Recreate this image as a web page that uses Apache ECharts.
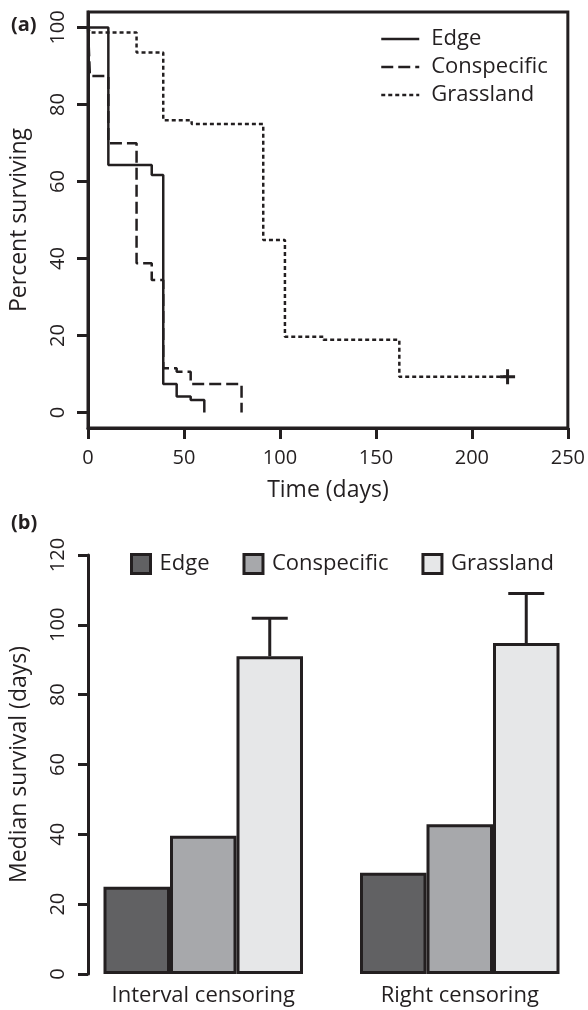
<!DOCTYPE html>
<html lang="en">
<head>
    <meta charset="UTF-8">
    <title>Survival by habitat</title>
    <script src="https://cdn.jsdelivr.net/npm/echarts@6/dist/echarts.min.js"></script>
    <style>
        html, body { margin: 0; padding: 0; background: #fff; }
        #chart { width: 588px; height: 1010px; }
    </style>
</head>
<body>
<div id="chart"></div>
<script>
    // ---- data ----
    var groups = ['Edge', 'Conspecific', 'Grassland'];

    // (a) Kaplan-Meier curves, [day, percent surviving]
    var edgeSurv = [[0, 100], [10.6, 64.3], [33.2, 61.7], [39.2, 7.4], [46.2, 4.2], [53.5, 3.3], [60.6, 0]];
    var conspSurv = [[0, 100], [1, 87.4], [10.6, 69.9], [25.3, 38.8], [33.2, 34.4], [39.2, 11.5],
                     [46.2, 10.6], [53.5, 7.4], [80, 0]];
    var grassSurv = [[0, 100], [1, 98.7], [25.3, 93.5], [39.2, 75.9], [54, 74.9], [91.3, 44.8],
                     [102.6, 19.7], [122.6, 18.9], [162.2, 9.3], [218.6, 9.3]];
    var grassCensored = [[218.6, 9.3]];
    var pctTicks = [0, 20, 40, 60, 80, 100];

    // (b) median survival (days)
    var methods = ['Interval censoring', 'Right censoring'];
    var edgeMedian = [25.0, 29.0];
    var conspMedian = [39.6, 42.9];
    var grassMedian = [91.0, 94.8];
    var grassUpper = [101.9, 109.0];

    // ---- style ----
    var INK = '#231f20';
    var FONT = 'Open Sans';
    var barColors = ['#616163', '#a7a8ab', '#e6e7e8'];
    var BAR_W = 66.5;

    var errData = grassMedian.map(function (v, i) { return [i, v, grassUpper[i]]; });

    function renderErr(params, api) {
        var base = api.coord([api.value(0), api.value(1)]);
        var top = api.coord([api.value(0), api.value(2)]);
        var x = base[0] + BAR_W; // grassland is the third bar of the group
        return {
            type: 'group',
            children: [
                { type: 'line', shape: { x1: x, y1: base[1], x2: x, y2: top[1] }, style: { stroke: INK, lineWidth: 3 } },
                { type: 'line', shape: { x1: x - 18, y1: top[1], x2: x + 18, y2: top[1] }, style: { stroke: INK, lineWidth: 3 } }
            ]
        };
    }

    var lbl = { fontFamily: FONT, fontSize: 20, color: INK };
    var nameStyle = { fontFamily: FONT, fontSize: 23, color: INK };

    var chart = echarts.init(document.getElementById('chart'));
    chart.setOption({
        animation: false,
        backgroundColor: '#fff',
        textStyle: { fontFamily: FONT, color: INK },
        title: [
            { text: '(a)', left: 11, top: 15, padding: 0, textStyle: { fontFamily: FONT, fontSize: 20, fontWeight: 'bold', color: INK } },
            { text: '(b)', left: 11, top: 513, padding: 0, textStyle: { fontFamily: FONT, fontSize: 20, fontWeight: 'bold', color: INK } }
        ],
        legend: [{
            data: groups,
            orient: 'vertical',
            left: 380, top: 28, padding: 0,
            itemWidth: 38, itemHeight: 14, itemGap: 6,
            selectedMode: false,
            lineStyle: { width: 2.5 },
            itemStyle: { opacity: 0 },
            textStyle: { fontFamily: FONT, fontSize: 22, color: INK, padding: [0, 0, 0, 7] }
        }, {
            data: groups.map(function (g, i) {
                return { name: g, icon: 'rect', itemStyle: { color: barColors[i], borderColor: INK, borderWidth: 3, opacity: 1 } };
            }),
            left: 130, top: 553, padding: 0,
            itemWidth: 19, itemHeight: 19, itemGap: 33,
            selectedMode: false,
            textStyle: { fontFamily: FONT, fontSize: 22, color: INK, padding: [0, 0, 0, 4] }
        }],
        grid: [
            { left: 88, top: 12, width: 480, height: 416, show: true, borderColor: INK, borderWidth: 3 },
            { left: 74, top: 555, width: 528, height: 419 }
        ],
        xAxis: [{
            type: 'value', gridIndex: 0, min: 0, max: 250, interval: 50,
            name: 'Time (days)', nameLocation: 'middle', nameGap: 51,
            nameTextStyle: nameStyle,
            axisLine: { onZero: false, lineStyle: { color: INK, width: 3 } },
            axisTick: { length: 11, lineStyle: { color: INK, width: 3 } },
            axisLabel: Object.assign({ margin: 20, showMinLabel: true, showMaxLabel: true }, lbl),
            splitLine: { show: false }
        }, {
            type: 'category', gridIndex: 1, data: methods,
            axisLine: { show: false }, axisTick: { show: false },
            axisLabel: { fontFamily: FONT, fontSize: 22, color: INK, margin: 11 }
        }],
        yAxis: [{
            type: 'value', gridIndex: 0, min: -4, max: 104,
            name: 'Percent surviving', nameLocation: 'middle', nameGap: 57,
            nameTextStyle: nameStyle,
            axisLine: { show: true, onZero: false, lineStyle: { color: INK, width: 3 } },
            axisTick: { show: true, length: 11, customValues: pctTicks, lineStyle: { color: INK, width: 3 } },
            axisLabel: Object.assign({ rotate: 90, margin: 20, customValues: pctTicks }, lbl),
            splitLine: { show: false }
        }, {
            type: 'value', gridIndex: 1, min: 0, max: 120, interval: 20, offset: -13,
            name: 'Median survival (days)', nameLocation: 'middle', nameGap: 57,
            nameTextStyle: nameStyle,
            axisLine: { show: true, lineStyle: { color: INK, width: 3 } },
            axisTick: { show: true, length: 10, lineStyle: { color: INK, width: 3 } },
            axisLabel: Object.assign({ rotate: 90, margin: 20 }, lbl),
            splitLine: { show: false }
        }],
        series: [
            { name: 'Edge', type: 'line', step: 'end', data: edgeSurv, symbol: 'none',
              lineStyle: { color: INK, width: 2.5, type: 'solid' }, itemStyle: { color: INK } },
            { name: 'Conspecific', type: 'line', step: 'end', data: conspSurv, symbol: 'none',
              lineStyle: { color: INK, width: 2.5, type: [12, 5] }, itemStyle: { color: INK } },
            { name: 'Grassland', type: 'line', step: 'end', data: grassSurv, symbol: 'none',
              lineStyle: { color: INK, width: 2.5, type: [4, 3] }, itemStyle: { color: INK } },
            { type: 'scatter', data: grassCensored, symbolSize: 15, silent: true,
              symbol: 'path://M6,0h3v6h6v3h-6v6h-3v-6h-6v-3h6z', itemStyle: { color: INK, opacity: 1 } },

            { name: 'Edge', type: 'bar', xAxisIndex: 1, yAxisIndex: 1, data: edgeMedian,
              barWidth: BAR_W, barGap: '0%', itemStyle: { color: barColors[0], borderColor: INK, borderWidth: 3 } },
            { name: 'Conspecific', type: 'bar', xAxisIndex: 1, yAxisIndex: 1, data: conspMedian,
              barWidth: BAR_W, barGap: '0%', itemStyle: { color: barColors[1], borderColor: INK, borderWidth: 3 } },
            { name: 'Grassland', type: 'bar', xAxisIndex: 1, yAxisIndex: 1, data: grassMedian,
              barWidth: BAR_W, barGap: '0%', itemStyle: { color: barColors[2], borderColor: INK, borderWidth: 3 } },
            { type: 'custom', xAxisIndex: 1, yAxisIndex: 1, data: errData, renderItem: renderErr,
              encode: { x: 0, y: [1, 2] }, silent: true, z: 3 }
        ]
    });
</script>
</body>
</html>
